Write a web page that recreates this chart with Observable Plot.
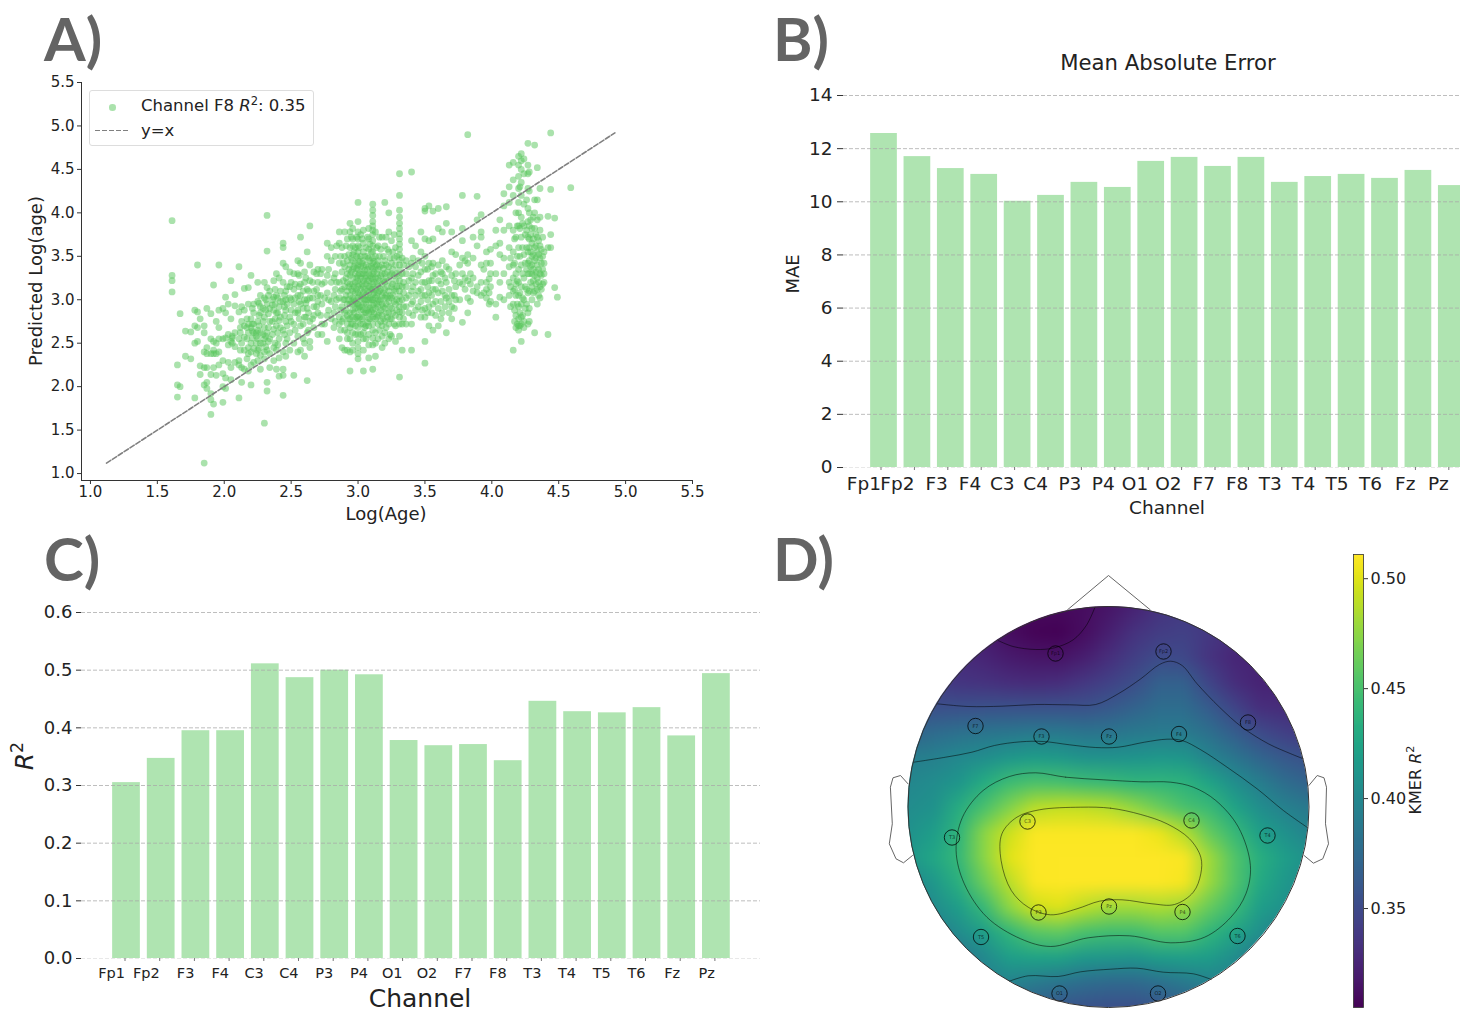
<!DOCTYPE html>
<html>
<head>
<meta charset="utf-8">
<script src="https://cdn.jsdelivr.net/npm/d3@7"></script>
<script src="https://cdn.jsdelivr.net/npm/@observablehq/plot@0.6"></script>
<style>
html,body{margin:0;padding:0;width:1460px;height:1011px;overflow:hidden;background:#fff;font-family:"DejaVu Sans",sans-serif;color:#222}
.abs{position:absolute}
.lab{position:absolute;white-space:nowrap;transform-origin:center}
.letter{position:absolute;font-family:"Lato",sans-serif;font-weight:700;color:#646464;line-height:1}
sup{font-size:.7em;line-height:0}
</style>
</head>
<body>
<script>
const channels = ["Fp1","Fp2","F3","F4","C3","C4","P3","P4","O1","O2","F7","F8","T3","T4","T5","T6","Fz","Pz"];
const maeValues = [12.57,11.7,11.25,11.03,10.02,10.24,10.73,10.54,11.52,11.67,11.33,11.67,10.73,10.95,11.03,10.88,11.18,10.61];
const r2Values = [0.305,0.347,0.395,0.395,0.511,0.487,0.5,0.492,0.378,0.369,0.371,0.343,0.446,0.428,0.426,0.435,0.386,0.494];

// Log(Age) column -> predicted Log(age) values
const scatterColumns = [
[1.61,[3.91,3.28,3.22,3.09]],[1.65,[2.25,2.02,1.88]],[1.67,[2.0,2.84]],[1.71,[2.35,2.64]],[1.75,[2.32,2.63]],[1.78,[2.7,2.5,2.88,1.87]],
[1.8,[3.4,2.68,2.86,2.52]],[1.82,[2.78,2.24,2.14]],[1.85,[2.22,2.62,2.7,2.02,2.4,1.12]],[1.87,[2.9,2.45,2.22,2.05,1.98,2.38]],
[1.9,[2.84,2.38,2.14,1.85,1.92,2.55,1.68]],[1.92,[3.17,2.52,2.38,2.22,1.8,2.42]],[1.94,[2.75,2.38,2.5,2.13]],[1.96,[3.4,2.68,2.55,2.4,2.88,2.25]],
[1.99,[2.9,2.55,2.3,2.15,2.0,1.82]],[2.01,[3.03,2.56,2.1,1.98,2.85]],[2.03,[2.28,2.6,2.48,2.95]],[2.05,[3.22,2.52,2.22,2.08,2.78]],
[2.08,[3.06,2.93,2.62,2.46,2.28]],[2.11,[3.38,2.55,2.3,2.25,2.86,1.87]],[2.13,[2.92,2.75,2.5,2.22,2.05]],[2.15,[3.13,2.7,2.57,2.42,2.2,2.88]],
[2.18,[2.72,2.62,2.45,2.38,2.18,2.95,3.14]],[2.2,[3.28,2.78,2.68,2.5,2.4,2.02,2.25]],[2.22,[2.95,2.72,2.62,2.44,2.28,2.85]],[2.25,[3.2,2.65,2.55,2.42,2.3,2.75,2.98]],
[2.27,[3.05,2.92,2.62,2.5,2.36,2.2,2.85]],[2.3,[3.2,3.02,2.8,2.55,2.4,2.32,2.68,1.58]],[2.32,[3.56,3.97,3.14,2.95,2.62,2.42,2.05,1.95]],[2.34,[3.1,2.9,2.75,2.55,2.38,2.22]],
[2.37,[3.22,3.03,2.88,2.66,2.45,2.3]],[2.39,[3.05,2.85,2.7,2.42,2.2,3.3]],[2.41,[3.25,2.92,2.76,2.55,2.33,2.12]],[2.44,[3.65,3.6,3.42,3.2,2.98,2.65,2.4,2.2,2.13,1.9]],
[2.46,[3.38,3.1,2.88,2.75,2.5,2.35,3.0]],[2.49,[3.32,3.02,2.8,2.62,2.42,3.15]],[2.52,[3.3,3.12,2.95,2.72,2.5,2.13]],[2.55,[3.45,3.3,3.05,2.85,2.58,2.4,2.88]],
[2.57,[3.72,3.42,3.18,2.95,2.7,2.42,3.05]],[2.6,[3.32,3.2,3.0,2.8,2.5,2.35]],[2.62,[3.55,3.12,2.9,2.62,2.07,3.0]],[2.64,[3.85,3.4,3.22,3.02,2.75,2.52,2.45]],
[2.67,[3.32,3.1,2.92,2.68,2.82]],[2.7,[3.35,3.2,3.05,2.85,2.6,2.98]],[2.73,[3.35,3.18,2.95,2.72,2.6]],[2.77,[3.65,3.5,3.28,3.08,2.82,2.52]],
[2.8,[3.6,3.45,3.2,2.98,2.78]],[2.83,[3.5,3.12,2.92,2.75,3.3]],[2.86,[3.78,3.65,3.42,3.2,3.02,2.8,2.72,2.55]],[2.88,[3.6,3.32,3.12,2.92,2.75,2.45]],
[2.9,[3.78,3.5,3.38,3.15,3.0,2.85,2.65,2.42]],
[2.92,[3.7,3.45,3.3,3.2,3.1,2.95,2.82,2.72,2.62,2.55,2.42]],
[2.94,[3.88,3.78,3.6,3.4,3.28,3.18,3.05,2.95,2.85,2.78,2.68,2.55,2.4,2.18]],
[2.96,[3.82,3.7,3.62,3.52,3.45,3.35,3.25,3.18,3.1,3.02,2.95,2.88,2.8,2.72,2.62,2.5,2.42]],
[2.98,[3.6,3.42,3.3,3.2,3.08,2.98,2.9,2.78,2.7,2.6]],
[3.0,[4.12,3.9,3.78,3.7,3.62,3.55,3.48,3.4,3.35,3.28,3.22,3.15,3.08,3.02,2.95,2.9,2.82,2.75,2.68,2.6,2.52,2.45,2.38,2.32]],
[3.02,[3.75,3.5,3.38,3.25,3.12,3.0,2.88,2.72,2.6]],
[3.04,[3.8,3.65,3.55,3.45,3.38,3.3,3.22,3.15,3.08,3.02,2.95,2.88,2.8,2.72,2.62,2.55,2.42,2.18]],
[3.06,[3.6,3.4,3.28,3.18,3.05,2.95,2.85,2.7,2.55]],
[3.08,[3.82,3.7,3.58,3.48,3.38,3.3,3.22,3.15,3.08,3.0,2.92,2.85,2.78,2.7,2.6,2.48,2.33]],
[3.11,[4.1,4.03,3.97,3.9,3.85,3.8,3.75,3.68,3.62,3.55,3.48,3.42,3.36,3.3,3.24,3.18,3.12,3.06,3.0,2.94,2.88,2.8,2.72,2.65,2.56,2.48,2.2]],
[3.13,[3.78,3.5,3.38,3.25,3.12,3.02,2.9,2.78,2.62,2.5,2.35]],
[3.15,[3.62,3.45,3.35,3.25,3.15,3.08,3.0,2.92,2.82,2.72,2.55]],
[3.18,[3.72,3.4,3.3,3.18,3.05,2.95,2.82,2.7,2.58,2.45]],
[3.2,[4.12,3.62,3.45,3.3,3.2,3.12,3.02,2.9,2.75,2.62,2.5]],
[3.23,[3.78,3.55,3.38,3.22,3.1,2.98,2.85,2.72,2.55,4.0]],
[3.25,[3.68,3.42,3.3,3.15,3.02,2.9,2.78,2.58]],
[3.28,[3.6,3.4,3.22,3.1,2.95,2.82,2.7,2.52]],
[3.31,[4.45,4.2,4.03,3.95,3.88,3.82,3.76,3.7,3.64,3.58,3.52,3.46,3.4,3.34,3.28,3.22,3.16,3.1,3.04,2.98,2.92,2.86,2.8,2.72,2.58,2.11]],
[3.33,[3.48,3.3,3.15,3.0,2.85,2.72,2.42]],
[3.36,[3.45,3.3,3.15,3.02,2.92,2.72]],
[3.4,[4.47,3.68,3.42,3.25,3.1,2.95,2.72,2.42]],
[3.43,[3.62,3.38,3.2,3.05,2.88]],
[3.47,[3.78,3.55,3.32,3.12,2.98,2.8]],
[3.5,[4.05,4.02,3.7,3.5,3.35,3.2,3.05,2.9,2.8,2.52,2.27]],
[3.53,[4.08,3.68,3.42,3.22,3.08,2.92,2.7]],
[3.56,[4.02,3.7,3.42,3.28,3.12,2.95,2.65]],
[3.6,[4.05,3.82,3.4,3.22,3.08,2.9,2.7]],
[3.63,[3.78,3.45,3.3,3.1,2.85]],
[3.66,[4.07,3.88,3.38,3.2,3.02,2.62]],
[3.7,[3.78,3.55,3.28,3.05,2.92,2.78]],
[3.73,[3.52,3.3,3.15,3.0]],
[3.78,[4.2,3.82,3.68,3.48,3.3,3.18,2.74]],
[3.82,[4.9,3.52,3.42,3.22,3.02,2.85]],
[3.86,[3.72,3.48,3.25,3.1]],
[3.89,[4.19,3.92,3.62,3.15,3.08]],
[3.92,[3.98,3.78,3.72,3.4,3.2,3.05]],
[3.96,[3.55,3.42,3.2,3.12,3.02]],
[3.99,[3.58,3.42,3.3,3.15,2.98]],
[4.03,[3.8,3.62,3.3,2.95,2.8]],
[4.06,[3.92,3.65,3.52,3.2,3.03]],
[4.09,[4.22,4.08,3.8,3.48,3.3,3.0]],
[4.13,[4.55,4.3,4.12,3.85,3.6,3.38,3.2,3.05]],
[4.16,[4.58,4.38,4.2,3.8,3.55,3.4,3.25,3.1,2.95,2.42]],
[4.18,[4.0,3.72,3.3,3.18,3.05,2.82,2.68]],
[4.2,[4.65,4.55,4.42,4.28,4.12,4.0,3.85,3.6,3.35,3.2,3.05,2.92,2.78,2.7,2.65]],
[4.22,[4.68,4.6,4.5,4.35,4.2,3.95,3.72,3.4,3.15,2.95,2.8,2.72,2.52]],
[4.24,[4.62,4.45,4.1,3.85,3.52,3.25,3.0,2.75,2.68]],
[4.27,[4.8,4.55,4.45,4.28,4.05,3.9,3.72,3.55,3.42,3.3,3.08,2.85,2.72]],
[4.28,[4.47,4.25,4.0,3.85,3.7,3.6,3.45,3.3,3.1,2.9,2.75]],
[4.3,[3.82,3.65,3.5,3.4,3.3,3.15,3.0]],
[4.32,[4.78,4.15,4.0,3.82,3.6,3.45,3.28,3.1,2.62]],
[4.34,[4.52,4.15,3.92,3.72,3.55,3.4,3.25,3.12,2.95]],
[4.36,[4.28,3.95,3.8,3.62,3.48,3.3,3.15,3.02]],
[4.39,[3.55,3.42,3.3,3.2]],
[4.42,[3.96,3.6,2.6]],
[4.44,[4.92,4.27,3.75,3.6]],
[4.47,[3.94,3.14]],
[4.49,[3.03]],
[4.59,[4.29]]
];
// second pass over the denser parts of the cloud
const scatterDense = [
[2.06,[2.58,2.5,2.56]],[2.12,[2.68,2.42,2.62]],[2.17,[2.78,2.55,2.68,2.32]],[2.21,[2.72,2.64,2.56,2.9]],[2.24,[2.62,2.5,2.58,2.38]],
[2.26,[2.7,2.44,2.82,2.96]],[2.29,[2.6,2.5,2.9,2.75]],[2.31,[3.0,2.88,2.58,2.46]],[2.33,[2.84,2.68,2.52,3.05]],[2.36,[3.0,2.75,2.6,2.94]],
[2.38,[2.95,2.78,2.5,3.12]],[2.4,[3.02,2.85,2.62,2.48]],[2.42,[2.98,2.8,3.1,2.68]],[2.45,[3.05,2.82,2.6,2.92]],[2.47,[3.15,2.95,2.7,2.55]],
[2.5,[3.0,2.88,3.2,2.75]],[2.53,[3.02,2.85,3.18,2.65]],[2.56,[3.15,2.98,2.78,3.28]],[2.59,[3.1,2.9,2.72,2.55]],[2.61,[3.25,2.96,2.8]],
[2.63,[3.1,2.85,2.65]],[2.66,[3.2,3.02,2.78]],[2.69,[3.3,3.12,2.92]],[2.72,[3.05,2.82,3.3]],[2.75,[3.2,3.02,2.72]],[2.78,[3.35,3.0,2.88]],
[2.82,[3.25,3.05,2.85,2.68]],[2.84,[3.62,3.2,3.0]],[2.87,[3.5,3.1,2.88,2.65]],[2.89,[3.42,3.22,3.0,2.78]],[2.91,[3.62,3.25,3.05,2.88]],
[2.93,[3.52,3.35,3.15,3.0,2.78]],[2.95,[3.72,3.48,3.32,3.12,2.98,2.72]],[2.97,[3.55,3.38,3.15,3.0,2.85]],[2.99,[3.72,3.5,3.36,3.25,3.12,2.95,2.8]],
[3.01,[3.6,3.44,3.3,3.18,3.05,2.92,2.8]],[3.03,[3.7,3.42,3.3,3.18,3.05,2.92,2.78]],[3.05,[3.5,3.34,3.25,3.12,3.0,2.85,2.68]],[3.07,[3.72,3.5,3.35,3.22,3.1,3.0,2.88,2.74]],
[3.09,[3.64,3.45,3.28,3.15,3.02,2.9,2.78]],[3.1,[3.55,3.38,3.25,3.12,3.0,2.86]],[3.12,[3.44,3.32,3.2,3.08,2.96,2.84]],[3.14,[3.6,3.4,3.3,3.18,3.05,2.95,2.8]],
[3.16,[3.72,3.5,3.38,3.22,3.1,2.98,2.85,2.65]],[3.17,[3.58,3.28,3.12,3.0,2.88,2.75]],[3.19,[3.5,3.36,3.22,3.08,2.92,2.78]],[3.21,[3.72,3.4,3.25,3.05,2.95,2.85,2.68]],
[3.22,[3.58,3.32,3.15,3.02,2.8]],[3.24,[3.48,3.28,3.05,2.92,2.78,2.6]],[3.26,[3.55,3.35,3.18,3.05,2.85]],[3.27,[3.75,3.48,3.28,3.12,2.98,2.72]],[3.29,[3.5,3.3,3.15,3.0,2.88]],
[3.34,[3.4,3.2,3.08,2.92,2.78]],[3.38,[3.38,3.22,3.05,2.85]],[3.41,[3.48,3.3,3.15,2.98,2.82]],[3.45,[3.45,3.28,3.1,2.92]],[3.48,[3.42,3.2,3.05,2.88]],[3.52,[3.35,3.15,3.0,2.85]],
[3.55,[3.38,3.22,3.05,2.85]],[3.58,[3.3,3.12,2.98,2.82]],[3.62,[3.32,3.18,2.98,2.78]],[3.65,[3.25,3.05,2.92]],[3.68,[3.35,3.12,2.98,2.85]],[3.72,[3.22,3.05,2.9]],[3.76,[3.4,3.2,3.0]],
[3.8,[3.45,3.25,3.12]],[3.84,[3.3,3.18,2.98]],[3.94,[3.35,3.08]],[3.98,[3.24,3.08,2.95]],
[4.14,[3.48,3.15,2.92]],[4.17,[3.7,3.42,3.12,2.88,2.75]],[4.19,[3.85,3.5,3.22,2.95,2.72]],[4.21,[4.3,3.82,3.5,3.08,2.85,2.7]],[4.23,[3.88,3.6,3.3,3.02,2.82]],
[4.25,[3.75,3.42,3.15,2.9]],[4.26,[4.15,3.8,3.6,3.35,3.12,2.95]],[4.29,[3.92,3.75,3.55,3.38,3.2]],[4.31,[3.95,3.7,3.52,3.35,3.22,3.08]],[4.33,[3.75,3.62,3.48,3.32,3.18]],
[4.35,[3.68,3.52,3.35,3.2,3.05]],[4.37,[3.58,3.42,3.28,3.12]],[4.38,[3.72,3.5,3.35,3.18]]
];
const scatter = scatterColumns.concat(scatterDense).flatMap(([age, preds]) => preds.map(p => ({age, pred: p})));

const tickStepsA = [1,1.5,2,2.5,3,3.5,4,4.5,5,5.5];
const identityLine = [1.12,4.92];
const maeTicks = [0,2,4,6,8,10,12,14];
const r2Ticks = [0,0.1,0.2,0.3,0.4,0.5,0.6];
const cbarTicks = [0.35,0.4,0.45,0.5];
const colorDomain = [0.305,0.511];

// Topographic map, offsets from the head centre
const electrodeNames = ["Fp1","Fp2","F7","F3","Fz","F4","F8","T3","C3","C4","T4","P3","Pz","P4","T5","T6","O1","O2"];
const electrodeX = [-53,55,-133,-67,0.5,70.5,139.5,-156.5,-81,83,159,-70,0.5,74,-127.5,129,-49,49.5];
const electrodeY = [153.5,155.5,81,70.5,70.5,73,84.5,-30.5,-14.5,-13.5,-28.5,-105.5,-99.5,-105,-130,-129,-186.5,-186.5];

// Field: 17 rows (top to bottom) x 17 columns (left to right)
const topoField = [
.32,.32,.32,.31,.31,.31,.31,.312,.317,.325,.335,.34,.34,.33,.33,.33,.33,
.33,.33,.33,.32,.312,.307,.306,.313,.323,.335,.342,.345,.338,.332,.33,.33,.33,
.335,.335,.33,.326,.32,.317,.316,.322,.333,.343,.352,.35,.336,.327,.325,.325,.325,
.345,.342,.337,.335,.332,.33,.332,.338,.346,.354,.368,.368,.347,.332,.325,.325,.325,
.355,.355,.356,.357,.357,.357,.357,.357,.362,.37,.378,.378,.364,.347,.333,.33,.33,
.37,.377,.381,.385,.387,.389,.388,.385,.385,.388,.39,.39,.38,.366,.352,.344,.338,
.392,.395,.402,.406,.414,.418,.416,.411,.41,.412,.415,.413,.398,.386,.372,.362,.356,
.40,.405,.413,.432,.446,.452,.45,.446,.444,.44,.44,.437,.425,.407,.392,.379,.37,
.405,.41,.433,.452,.472,.49,.493,.492,.488,.478,.465,.452,.445,.425,.407,.396,.388,
.41,.42,.44,.475,.495,.51,.51,.51,.51,.51,.505,.488,.462,.444,.421,.41,.398,
.415,.428,.443,.475,.502,.512,.512,.512,.512,.512,.512,.51,.482,.455,.435,.42,.41,
.40,.415,.436,.465,.49,.51,.512,.512,.512,.512,.512,.508,.48,.455,.43,.415,.403,
.39,.405,.42,.443,.475,.495,.5,.49,.482,.482,.485,.48,.462,.445,.42,.41,.40,
.375,.39,.405,.42,.44,.457,.46,.45,.447,.447,.455,.455,.44,.425,.408,.39,.375,
.36,.37,.385,.402,.42,.424,.423,.415,.413,.412,.418,.42,.418,.405,.385,.37,.36,
.37,.375,.385,.395,.397,.39,.384,.378,.375,.375,.38,.388,.396,.395,.385,.375,.37,
.37,.37,.37,.37,.37,.365,.36,.357,.355,.355,.36,.365,.37,.37,.37,.37,.37
];

const contourOpen = [
 [[-110.4,166.5],[-95.4,160.5],[-72.8,157.5],[-54.1,159.2],[-35.3,167.2],[-22.2,181.5],[-13.5,199.8]],
 [[-171.2,103.2],[-140.4,100.5],[-106.6,100.8],[-72.8,102.5],[-39,102.2],[-12.8,102.5],[9.7,113.2],[32.3,128.2],[51,142.5],[62.3,145.8],[73.6,141.5],[88.6,123.2],[111,99.8],[133.6,79.8],[159.9,63.2],[182.4,53.2],[194.8,48.2]],
 [[-194.8,44.8],[-163,49.8],[-136.6,54.8],[-114.1,61.5],[-87.8,65.2],[-65.3,65.5],[-39,62.2],[-12.8,59.5],[9.7,59.8],[36,64.8],[58.5,67.8],[73.6,66.5],[92.3,57.2],[118.6,39.8],[148.6,18.2],[174.9,-3.5],[199.3,-20.8]],
 [[-99.1,-174.2],[-80.3,-168.8],[-50.3,-169.5],[-27.8,-164.8],[2.2,-162.2],[28.5,-161.2],[54.8,-165.2],[84.8,-166.8],[102.8,-172.5]]
];
const contourClosed = [
 [[-72.8,34.2],[-42.8,29.8],[-5.3,27.2],[32.3,25.2],[62.3,24.8],[84.8,19.8],[107.3,6.5],[129.9,-20.2],[141.9,-58.5],[137.4,-86.8],[122.4,-110.2],[96.1,-130.2],[62.3,-135.8],[21,-128.8],[-20.3,-130.8],[-57.8,-139.5],[-87.8,-131.8],[-121.6,-110.2],[-144.2,-76.8],[-152.4,-43.5],[-146,-10.2],[-125.4,16.5],[-99.1,30.5]],
 [[-27.8,-0.2],[2.2,-1.2],[32.3,-7.5],[58.5,-16.8],[81,-31.8],[92.3,-50.2],[92.3,-66.8],[84.8,-85.2],[66,-97.5],[43.5,-96.8],[13.5,-92.8],[-9,-94.2],[-31.5,-101.8],[-57.8,-107.8],[-80.3,-100.2],[-97.2,-83.5],[-107.4,-53.5],[-106.6,-26.8],[-91.6,-10.2],[-69.1,-2.8]]
];
const earLeft = [[-200.5,23.2],[-208,31.5],[-215.5,29.2],[-218.1,19.8],[-216.2,-16.8],[-219.2,-36.8],[-212.5,-51.8],[-205,-55.8],[-196,-48.5]];
const earRight = [[200.4,21.5],[208.7,31.5],[215.5,29.2],[218,19.8],[217,-16.8],[220,-36.8],[214.3,-51.8],[204.9,-56.2],[195.6,-48.5]];
const nose = [[-41,197.2],[0,231.5],[41.7,197.2]];
const headRadius = 200.5;

const font = '"DejaVu Sans",sans-serif';
const barColor = "#55c55a";
const gridColor = "#a8a8a8";

function place(plot, left, top){
  plot.style.position = "absolute";
  plot.style.left = left + "px";
  plot.style.top = top + "px";
  plot.style.maxWidth = "none";
  plot.style.background = "transparent";
  document.body.appendChild(plot);
  return plot;
}
function label(html, x, y, size, rot){
  const d = document.createElement("div");
  d.className = "lab";
  d.innerHTML = html;
  d.style.left = x + "px";
  d.style.top = y + "px";
  d.style.fontSize = size + "px";
  d.style.transform = `translate(-50%,-50%)` + (rot ? ` rotate(${rot}deg)` : "");
  document.body.appendChild(d);
}
function letter(t, x, y){
  const d = document.createElement("div");
  d.className = "letter";
  d.textContent = t;
  d.style.left = x + "px";
  d.style.top = y + "px";
  d.style.fontSize = "60px";
  document.body.appendChild(d);
}

/* ---------- Panel A ---------- */
place(Plot.plot({
  width: 730, height: 470,
  marginLeft: 81, marginRight: 38, marginTop: 22, marginBottom: 50,
  style: {fontFamily: font, fontSize: "15px", color: "#222"},
  x: {domain: [0.933,5.5]},
  y: {domain: [0.92,5.5]},
  marks: [
    Plot.dot(scatter, {x:"age", y:"pred", r:3.4, fill:"#55c55a", fillOpacity:0.5, stroke:"none"}),
    Plot.line(identityLine.map(v=>({v})), {x:"v", y:"v", stroke:"#808080", strokeWidth:1.6, strokeDasharray:"5 2"}),
    Plot.ruleX([0.933], {stroke:"#333", strokeWidth:1}),
    Plot.ruleY([0.92], {stroke:"#333", strokeWidth:1}),
    Plot.axisX({ticks:tickStepsA, tickFormat:d3.format(".1f"), tickSize:4, tickPadding:2, label:null, stroke:"#333", fill:"#222"}),
    Plot.axisY({ticks:tickStepsA, tickFormat:d3.format(".1f"), tickSize:4, tickPadding:3, label:null, stroke:"#333", fill:"#222"})
  ]
}), 0, 60);
label("Log(Age)", 386, 513, 18);
label("Predicted Log(age)", 35, 281, 18, -90);

// legend
const legendBox = document.createElement("div");
legendBox.className = "abs";
legendBox.style.cssText = "left:89px;top:90px;width:223px;height:54px;border:1px solid #ddd;border-radius:3px;background:#fff;";
document.body.appendChild(legendBox);
const legendDot = document.createElement("div");
legendDot.className = "abs";
legendDot.style.cssText = "left:109px;top:104px;width:6.6px;height:6.6px;border-radius:50%;background:#55c55a;opacity:.5;";
document.body.appendChild(legendDot);
const legendDash = document.createElement("div");
legendDash.className = "abs";
legendDash.style.cssText = "left:95px;top:130px;width:35px;height:1.4px;background:repeating-linear-gradient(90deg,#808080 0 5px,transparent 5px 7px);";
document.body.appendChild(legendDash);
const t1 = document.createElement("div");
t1.className = "abs";
t1.style.cssText = "left:141px;top:96px;font-size:16.5px;white-space:nowrap;";
t1.innerHTML = "Channel F8 <i>R</i><sup>2</sup>: 0.35";
document.body.appendChild(t1);
const t2 = document.createElement("div");
t2.className = "abs";
t2.style.cssText = "left:141px;top:121px;font-size:16.5px;";
t2.textContent = "y=x";
document.body.appendChild(t2);
letter("A)", 44, 8);

/* ---------- Panel B ---------- */
const rowsB = channels.map((c,i)=>({c, v:maeValues[i]}));
place(Plot.plot({
  width: 690, height: 440,
  marginLeft: 73, marginRight: 0, marginTop: 15, marginBottom: 53,
  style: {fontFamily: font, fontSize: "18.5px", color: "#222"},
  x: {type:"band", domain: channels, range: [96.8,698], paddingInner:0.2, paddingOuter:0.1, round:false},
  y: {domain: [0,14]},
  marks: [
    Plot.ruleY([0], {stroke:"#e8e8e8", strokeDasharray:"4 2"}),
    Plot.barY(rowsB, {x:"c", y:"v", fill:barColor, fillOpacity:0.47}),
    Plot.gridY({ticks:maeTicks.filter(v=>v>0), stroke:gridColor, strokeOpacity:0.75, strokeDasharray:"4 2", strokeWidth:1}),
    Plot.axisY({ticks:maeTicks, tickSize:6, tickPadding:5, label:null, stroke:"#333", fill:"#222"}),
    Plot.axisX({tickSize:3, tickPadding:6, textAnchor:"end", dx:-3, label:null, fill:"#222", stroke:"#777"})
  ]
}), 770, 80);
label("Mean Absolute Error", 1168, 62, 21.2);
label("Channel", 1167, 507, 18.5);
label("MAE", 792, 274, 18, -90);
letter("B)", 773, 8);

/* ---------- Panel C ---------- */
const rowsC = channels.map((c,i)=>({c, v:r2Values[i]}));
place(Plot.plot({
  width: 770, height: 421,
  marginLeft: 81, marginRight: 10, marginTop: 22, marginBottom: 53,
  style: {fontFamily: font, fontSize: "18px", color: "#222"},
  x: {type:"band", domain: channels, range: [108.65,733.25], paddingInner:0.2, paddingOuter:0.1, round:false},
  y: {domain: [0,0.6]},
  marks: [
    Plot.ruleY([0], {stroke:"#e8e8e8", strokeDasharray:"4 2"}),
    Plot.barY(rowsC, {x:"c", y:"v", fill:barColor, fillOpacity:0.47}),
    Plot.gridY({ticks:r2Ticks.filter(v=>v>0), stroke:gridColor, strokeOpacity:0.75, strokeDasharray:"4 2", strokeWidth:1}),
    Plot.axisY({ticks:r2Ticks, tickFormat:d3.format(".1f"), tickSize:5, tickPadding:4, label:null, stroke:"#333", fill:"#222"}),
    Plot.axisX({tickSize:3, tickPadding:6, textAnchor:"end", dx:-1.5, fontSize:14.5, label:null, fill:"#222", stroke:"#777"})
  ]
}), 0, 590);
label("Channel", 420, 998, 25);
label("<i>R</i><sup>2</sup>", 24, 756, 25, -90);
letter("C)", 44, 528);

/* ---------- Panel D ---------- */
const colorOpts = {type:"linear", scheme:"viridis", domain:colorDomain, clamp:true};
const asPts = (arr,id)=>arr.map(([x,y])=>({x,y,id}));
const openRows = contourOpen.flatMap((a,i)=>asPts(a,i));
const closedRows = contourClosed.flatMap((a,i)=>asPts(a,i));
const electrodes = electrodeNames.map((n,i)=>({n, x:electrodeX[i], y:electrodeY[i]}));
const head = place(Plot.plot({
  width: 460, height: 450,
  marginLeft: 0, marginRight: 0, marginTop: 0, marginBottom: 0,
  style: {fontFamily: font, fontSize: "5px", color: "#222"},
  x: {domain: [-headRadius,headRadius], range: [27.5,428.5], axis:null},
  y: {domain: [-headRadius,headRadius], range: [447,46], axis:null},
  color: colorOpts,
  marks: [
    Plot.raster(topoField, {width:17, height:17, x1:-212.5, x2:212.5, y1:212.5, y2:-212.5}),
    Plot.line(openRows, {x:"x", y:"y", z:"id", curve:"catmull-rom", stroke:"#000", strokeOpacity:0.5, strokeWidth:1}),
    Plot.line(closedRows, {x:"x", y:"y", z:"id", curve:"catmull-rom-closed", stroke:"#000", strokeOpacity:0.5, strokeWidth:1}),
    Plot.dot(electrodes, {x:"x", y:"y", r:7.7, stroke:"#000", strokeOpacity:0.75, strokeWidth:1, fill:"none"}),
    Plot.text(electrodes, {x:"x", y:"y", text:"n", fontSize:5, fill:"#000", fillOpacity:0.7}),
    Plot.dot([[0,0]], {x:"0", y:"1", r:headRadius, stroke:"#333", strokeWidth:1, fill:"none"}),
    Plot.line(asPts(earLeft,0), {x:"x", y:"y", stroke:"#666", strokeWidth:1, curve:"linear"}),
    Plot.line(asPts(earRight,0), {x:"x", y:"y", stroke:"#666", strokeWidth:1, curve:"linear"}),
    Plot.line(asPts(nose,0), {x:"x", y:"y", stroke:"#666", strokeWidth:1})
  ]
}), 880, 560);
// the interpolated field is confined to the head outline
const img = head.querySelector("image");
if (img) {
  const ns = "http://www.w3.org/2000/svg";
  const defs = document.createElementNS(ns, "defs");
  const cp = document.createElementNS(ns, "clipPath");
  cp.setAttribute("id", "headClip");
  const circ = document.createElementNS(ns, "circle");
  circ.setAttribute("cx", head.scale("x").apply(0));
  circ.setAttribute("cy", head.scale("y").apply(0));
  circ.setAttribute("r", headRadius);
  cp.appendChild(circ); defs.appendChild(cp); head.insertBefore(defs, head.firstChild);
  img.style.filter = "blur(4px)";
  const g = document.createElementNS(ns, "g");
  g.setAttribute("clip-path", "url(#headClip)");
  img.parentNode.parentNode.insertBefore(g, img.parentNode);
  g.appendChild(img.parentNode);
}

// colourbar
const rampSteps = d3.range(colorDomain[1], colorDomain[0], -(colorDomain[1]-colorDomain[0])/120);
place(Plot.plot({
  width: 80, height: 471,
  marginLeft: 13, marginRight: 57, marginTop: 14, marginBottom: 4,
  style: {fontFamily: font, fontSize: "16px", color: "#222"},
  x: {domain:[0,1], axis:null},
  y: {domain: colorDomain},
  color: colorOpts,
  marks: [
    Plot.raster(rampSteps, {width:1, height:rampSteps.length, x1:0, x2:1, y1:colorDomain[1], y2:colorDomain[0]}),
    Plot.frame({stroke:"#333", strokeWidth:0.8}),
    Plot.axisY({anchor:"right", ticks:cbarTicks, tickFormat:d3.format(".2f"), tickSize:4, tickPadding:3, label:null, stroke:"#333", fill:"#222"})
  ]
}), 1340, 540);
label("KMER <i>R</i><sup>2</sup>", 1415, 780, 16, -90);
letter("D)", 773, 528);
</script>
</body>
</html>
